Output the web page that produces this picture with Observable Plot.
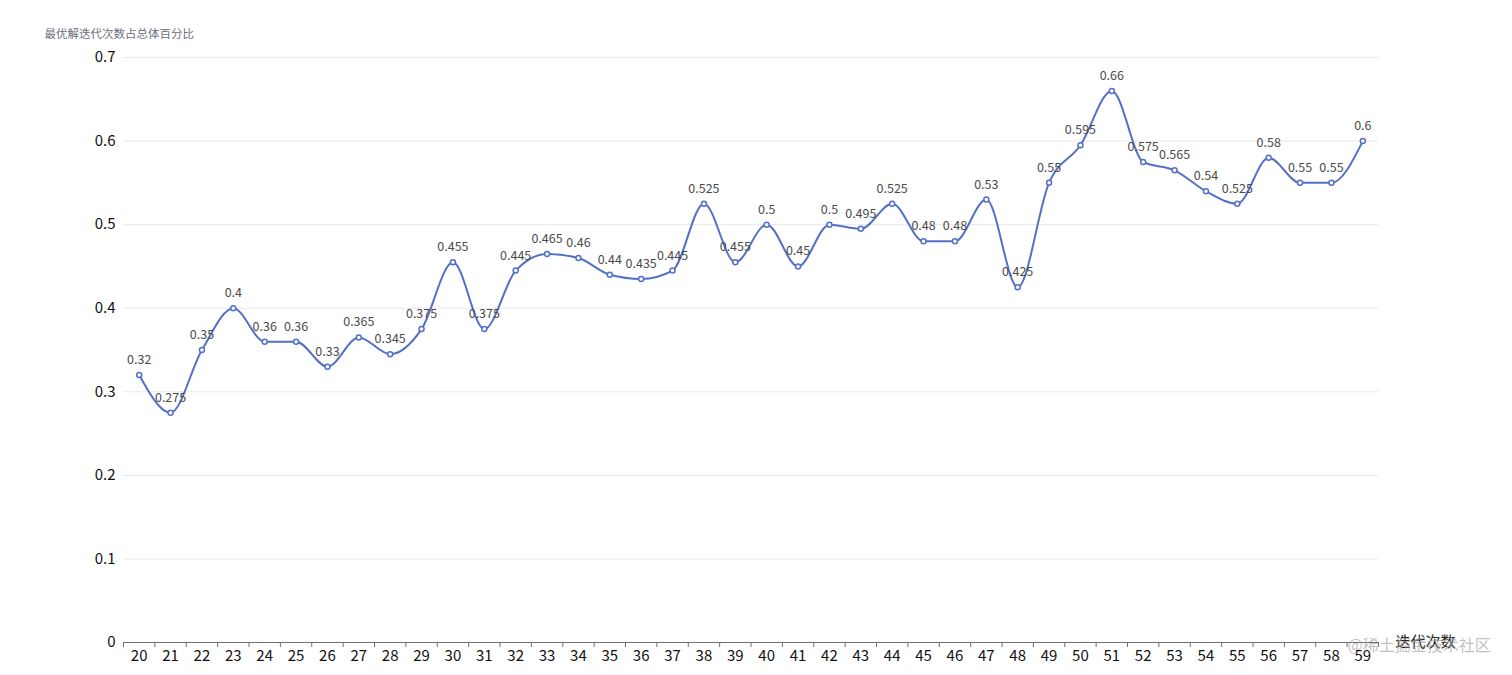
<!DOCTYPE html>
<html>
<head>
<meta charset="utf-8">
<script src="https://cdn.jsdelivr.net/npm/d3@7"></script>
<script src="https://cdn.jsdelivr.net/npm/@observablehq/plot@0.6"></script>
<style>
  html, body { margin: 0; padding: 0; background: #fff; }
  #chart svg { display: block; }
</style>
</head>
<body>
<div id="chart"></div>
<script>
const categories = [20,21,22,23,24,25,26,27,28,29,30,31,32,33,34,35,36,37,38,39,40,41,42,43,44,45,46,47,48,49,50,51,52,53,54,55,56,57,58,59];
const values = [0.32,0.275,0.35,0.4,0.36,0.36,0.33,0.365,0.345,0.375,0.455,0.375,0.445,0.465,0.46,0.44,0.435,0.445,0.525,0.455,0.5,0.45,0.5,0.495,0.525,0.48,0.48,0.53,0.425,0.55,0.595,0.66,0.575,0.565,0.54,0.525,0.58,0.55,0.55,0.6];
const yTicks = [0,0.1,0.2,0.3,0.4,0.5,0.6,0.7];
const yName = "最优解迭代次数占总体百分比";
const xName = "迭代次数";
const watermark = "@稀土掘金技术社区";

const data = categories.map((c, i) => ({x: c, y: values[i]}));
const xBoundaries = [categories[0] - 0.5, ...categories.map(c => c + 0.5)];

const font = "'Noto Sans CJK SC', 'Noto Sans', sans-serif";

const chart = Plot.plot({
  width: 1512,
  height: 675,
  marginLeft: 123,
  marginRight: 134,
  marginTop: 57,
  marginBottom: 33,
  style: {fontFamily: font, background: "#fff", overflow: "visible"},
  x: {type: "linear", domain: [categories[0] - 0.5, categories[categories.length - 1] + 0.5]},
  y: {domain: [0, 0.7]},
  marks: [
    Plot.ruleY(yTicks.filter(d => d > 0), {stroke: "#e6e8ee", strokeWidth: 1}),
    Plot.ruleY([0], {stroke: "#6e7079", strokeWidth: 1}),
    Plot.axisY({ticks: yTicks, tickSize: 0, tickPadding: 8, tickFormat: d => String(+d.toFixed(2)), fontSize: 15, fill: "#111", label: null}),
    Plot.axisX({ticks: categories, tickSize: 0, tickPadding: 8, tickFormat: d => String(d), fontSize: 15, fill: "#111", label: null}),
    Plot.axisX({ticks: xBoundaries, tickSize: 5, tickFormat: () => "", stroke: "#6e7079", label: null}),
    Plot.line(data, {x: "x", y: "y", stroke: "#5470c6", strokeWidth: 2, curve: "monotone-x"}),
    Plot.dot(data, {x: "x", y: "y", r: 2.5, fill: "#fff", stroke: "#5470c6", strokeWidth: 1.5}),
    Plot.text(data, {x: "x", y: "y", text: d => String(d.y), dy: -15, fontSize: 12.5, fill: "#4a4a4a"}),
    Plot.text([yName], {frameAnchor: "top-left", textAnchor: "start", dx: -79, dy: -23, fontSize: 11.5, fill: "#6e7079"}),
    Plot.text([xName], {frameAnchor: "bottom-right", textAnchor: "start", dx: 17, dy: -2, fontSize: 15, fill: "#222"}),
    Plot.text([watermark], {frameAnchor: "bottom-right", textAnchor: "start", dx: -31, dy: 0, fontSize: 16, fill: "#999", fillOpacity: 0.6})
  ]
});
// nudge text baselines to match reference vertical placement
chart.querySelectorAll("text").forEach(t => {
  if (t.textContent === yName) t.setAttribute("transform", (t.getAttribute("transform") || "") + " translate(0,-5)");
  if (t.textContent === xName) t.setAttribute("transform", (t.getAttribute("transform") || "") + " translate(0,6)");
  if (t.textContent === watermark) t.setAttribute("transform", (t.getAttribute("transform") || "") + " translate(0,8)");
});
document.getElementById("chart").appendChild(chart);
</script>
</body>
</html>
